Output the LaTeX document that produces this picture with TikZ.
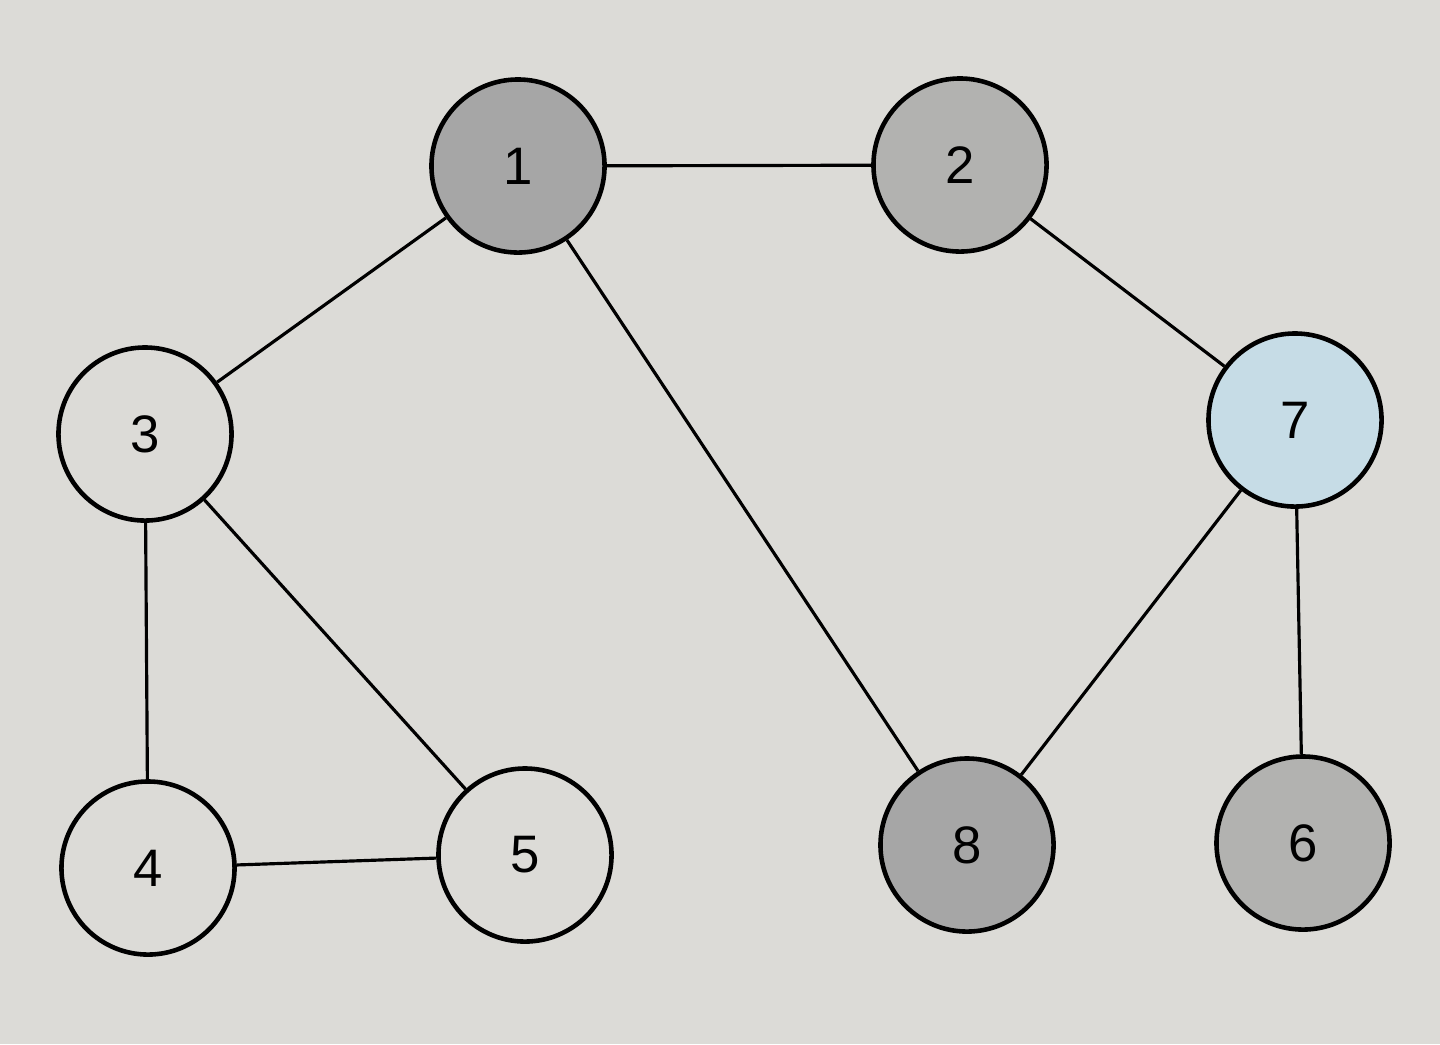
\documentclass[tikz,border=0pt]{standalone}
\usepackage{fontspec}
\setmainfont{Liberation Sans}
\usepackage{xcolor}
\usepackage{tikz}

\definecolor{paper}{HTML}{DCDBD7}
\definecolor{darkfill}{HTML}{A6A6A6}
\definecolor{midfill}{HTML}{B2B2B0}
\definecolor{bluefill}{HTML}{C6DCE6}

\begin{document}
\begin{tikzpicture}[
    x=0.01cm, y=-0.01cm,
    vertex/.style={circle, draw, line width=1.3pt, minimum size=1.73cm, inner sep=0pt, font=\fontsize{15}{15}\selectfont, fill=paper},
    edge/.style={line width=0.9pt}
]
\fill[paper] (0,0) rectangle (1440,1044);
\useasboundingbox (0,0) rectangle (1440,1044);

\node[vertex, fill=darkfill] (n1) at (518,166) {1};
\node[vertex, fill=midfill] (n2) at (960,165) {2};
\node[vertex] (n3) at (145,434) {3};
\node[vertex] (n4) at (148,868) {4};
\node[vertex] (n5) at (525,855) {5};
\node[vertex, fill=midfill] (n6) at (1303,843) {6};
\node[vertex, fill=bluefill] (n7) at (1295,420) {7};
\node[vertex, fill=darkfill] (n8) at (967,845) {8};

\draw[edge] (n1) -- (n2);
\draw[edge] (n1) -- (n3);
\draw[edge] (n1) -- (n8);
\draw[edge] (n2) -- (n7);
\draw[edge] (n3) -- (n4);
\draw[edge] (n3) -- (n5);
\draw[edge] (n4) -- (n5);
\draw[edge] (n7) -- (n8);
\draw[edge] (n7) -- (n6);
\end{tikzpicture}
\end{document}
